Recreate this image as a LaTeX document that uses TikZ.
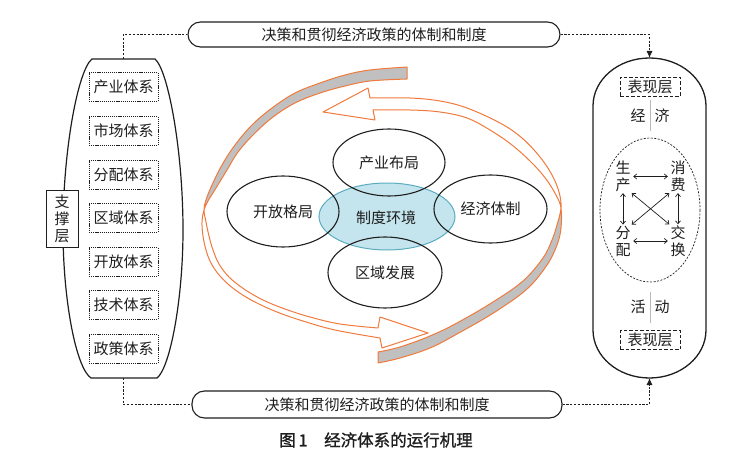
\documentclass[tikz,border=0pt]{standalone}
\usepackage{fontspec}
\setmainfont{Noto Sans CJK SC}
\newfontfamily\capfont[FakeBold=1.2]{Noto Sans CJK SC}
\usetikzlibrary{shapes.geometric,arrows.meta}
\definecolor{orng}{RGB}{240,122,60}
\definecolor{bandgray}{RGB}{192,192,192}
\definecolor{envfill}{RGB}{196,229,238}
\definecolor{envline}{RGB}{90,172,192}
\definecolor{ink}{RGB}{30,30,30}
\begin{document}
\begin{tikzpicture}[x=1pt,y=-1pt, font=\fontsize{15}{17}\selectfont, text=ink,
 lbox/.style={draw=ink, line width=0.6pt, dash pattern=on 1.2pt off 0.9pt, minimum width=69pt, minimum height=29pt, inner sep=0pt},
 banner/.style={draw=ink, line width=1.1pt, rounded corners=12.5pt, inner sep=0pt},
 blob/.style={ellipse, draw=ink, line width=1.1pt, inner sep=0pt},
 showbox/.style={draw=ink, line width=0.8pt, dash pattern=on 3.5pt off 2pt, minimum width=60pt, minimum height=19pt, inner sep=0pt},
 conn/.style={draw=ink, line width=0.9pt, dash pattern=on 2.2pt off 1.6pt},
 vtxt/.style={align=center, inner sep=1pt},
 dbl/.style={{Straight Barb[length=3pt,width=5pt]}-{Straight Barb[length=3pt,width=5pt]}, line width=0.7pt, draw=ink},
 sep/.style={draw=gray!55, line width=0.8pt},
 bandfill/.style={fill=bandgray},
 ribbonline/.style={draw=orng, line width=1pt, line join=round}
]
\useasboundingbox (0,0) rectangle (748,460);

% ---------- left capsule ----------
\draw[ink, line width=1.2pt] (92,59) -- (155,59)
  .. controls (168,70) and (183,150) .. (183,230)
  .. controls (183,300) and (170,368) .. (157,378)
  -- (91,378)
  .. controls (76,368) and (63,300) .. (63,230)
  .. controls (63,150) and (78,70) .. (92,59) -- cycle;
\coordinate (lt) at (123,59);
\coordinate (lb) at (123,378);
\node[lbox] (s1) at (123.5,87) {产业体系};
\node[lbox] (s2) at (123.5,131) {市场体系};
\node[lbox] (s3) at (123.5,175) {分配体系};
\node[lbox] (s4) at (123.5,218) {区域体系};
\node[lbox] (s5) at (123.5,262) {开放体系};
\node[lbox] (s6) at (123.5,305) {技术体系};
\node[lbox] (s7) at (123.5,349) {政策体系};
\node[draw=ink, fill=white, line width=0.9pt, minimum width=32pt, minimum height=57pt, inner sep=0pt, align=center] (zc) at (62,218.5) {支\\撑\\层};

% ---------- banners ----------
\node[banner, minimum width=372pt, minimum height=25pt] (topbox) at (374,34.5) {决策和贯彻经济政策的体制和制度};
\node[banner, minimum width=370pt, minimum height=27pt] (botbox) at (377,404.5) {决策和贯彻经济政策的体制和制度};

% ---------- right capsule ----------
\draw[ink, line width=1.3pt] (593,106) .. controls (593,79.5) and (618.3,58) .. (649.5,58)
  .. controls (680.7,58) and (706,79.5) .. (706,106) -- (706,330)
  .. controls (706,356.5) and (680.7,378) .. (649.5,378)
  .. controls (618.3,378) and (593,356.5) .. (593,330) -- cycle;
\coordinate (rt) at (649.5,58);
\coordinate (rb) at (649.5,378);
\node[showbox] (bx1) at (650,87) {表现层};
\node[showbox] (bx2) at (650,340) {表现层};
\node (j1) at (638,116) {经};
\node (j2) at (662,116) {济};
\draw[sep] (650,100) -- (650,131);
\node (h1) at (638,307) {活};
\node (h2) at (662,307) {动};
\draw[sep] (650,292) -- (650,323);
\draw[ink, line width=0.7pt, dash pattern=on 2pt off 1.5pt] (650,210) ellipse [x radius=50, y radius=72];
\node[vtxt] (sc) at (623,176.5) {生\\产};
\node[vtxt] (xf) at (678,176.5) {消\\费};
\node[vtxt] (fp) at (623,241) {分\\配};
\node[vtxt] (jh) at (678,241) {交\\换};
\draw[dbl, shorten <=1.5pt, shorten >=1.5pt] (sc.east) -- (xf.west);
\draw[dbl, shorten <=1.5pt, shorten >=1.5pt] (fp.east) -- (jh.west);
\draw[dbl] (sc.south) -- (fp.north);
\draw[dbl] (xf.south) -- (jh.north);
\draw[dbl] (sc.south east) -- (jh.north west);
\draw[dbl] (xf.south west) -- (fp.north east);

% ---------- connectors ----------
\draw[conn] (lt) |- (topbox.west);
\draw[conn] (lb) |- (botbox.west);
\draw[conn,-{Latex[length=7pt,width=6pt]}] (topbox.east) -| (rt);
\draw[conn,-{Latex[length=7pt,width=6pt]}] (botbox.east) -| (rb);

% ---------- centre ellipses ----------
\node[ellipse, fill=envfill, draw=envline, line width=1pt, minimum width=136pt, minimum height=67pt, inner sep=0pt] (env) at (387,216.5) {};
\node[blob, minimum width=112pt, minimum height=67pt] (cy) at (389,162.5) {};
\node[blob, minimum width=112pt, minimum height=71pt] (kf) at (283,211.5) {};
\node[blob, minimum width=113pt, minimum height=68pt] (jj) at (490.5,209) {};
\node[blob, minimum width=114pt, minimum height=71pt] (qy) at (385,272.5) {};
\node at (cy) {产业布局};
\node at (kf) {开放格局};
\node at (jj) {经济体制};
\node at (qy) {区域发展};
\node at (386,218) {制度环境};

% ---------- circulating ribbons ----------
% ribbon B : gray part
\fill[bandfill] plot[smooth, tension=0.6] coordinates {(378,363) (400,358) (430,348) (457,334) (495,312) (527,289) (547,265) (557,245) (561,228) (561,208)}
  -- plot[smooth, tension=0.6] coordinates {(561,208) (557,225) (552,240) (543,258) (523,281) (493,302) (457,323) (430,336) (400,347) (378,352)} -- cycle;
% ribbon B : outline
\draw[ribbonline] plot[smooth, tension=0.6] coordinates {(378,363) (400,358) (430,348) (457,334) (495,312) (527,289) (547,265) (557,245) (561,228) (561,208) (556,195) (546,179) (532,163) (512,145) (490,130) (467,118) (440,112) (410,110) (373,110)}
  -- (375,120) -- (323,112) -- (368,88) -- (370,98)
  -- plot[smooth, tension=0.6] coordinates {(370,98) (410,98) (440,101) (467,108) (500,123) (522,138) (540,157) (552,175) (559,192) (561,208) (557,225) (552,240) (543,258) (523,281) (493,302) (457,323) (430,336) (400,347) (378,352)} -- cycle;
% ribbon A : gray part
\fill[bandfill] plot[smooth, tension=0.6] coordinates {(407,67) (370,70) (345,75) (320,83) (295,93) (272,108) (252,125) (235,145) (222,165) (212,185) (206,200) (204,210)}
  -- plot[smooth, tension=0.6] coordinates {(204,210) (208,201) (216,188) (227,170) (238,152) (254,134) (273,117) (295,103) (320,93) (345,86) (370,81) (407,79)} -- cycle;
% ribbon A : outline
\fill[white] (378,328) -- (380,317) -- (428,333) -- (382,348) -- (380,338) -- cycle;
\draw[ribbonline] plot[smooth, tension=0.6] coordinates {(407,67) (370,70) (345,75) (320,83) (295,93) (272,108) (252,125) (235,145) (222,165) (212,185) (206,200) (204,210) (206,222) (209,236) (213,250) (219,264) (229,277) (244,289) (263,300) (285,309) (310,317) (340,324) (378,328)}
  -- (380,317) -- (428,333) -- (382,348) -- (380,338)
  -- plot[smooth, tension=0.6] coordinates {(380,338) (335,330) (303,321) (277,312) (253,301) (234,289) (220,276) (211,263) (206,250) (203,236) (202,222) (204,210) (208,201) (216,188) (227,170) (238,152) (254,134) (273,117) (295,103) (320,93) (345,86) (370,81) (407,79)} -- cycle;

% ---------- caption ----------
\node[font=\capfont\fontsize{16.5}{18}\selectfont] (cap) at (376,440) {图\,1\quad 经济体系的运行机理};
\end{tikzpicture}
\end{document}
